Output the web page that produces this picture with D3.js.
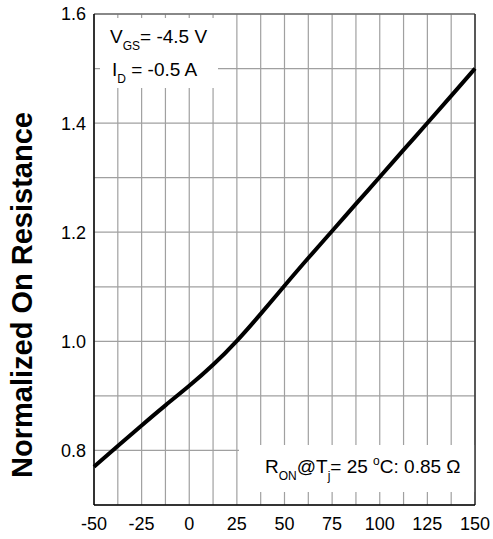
<!DOCTYPE html>
<html>
<head>
<meta charset="utf-8">
<script src="https://cdn.jsdelivr.net/npm/d3@7"></script>
<style>
  body { margin: 0; background: #fff; }
  svg { font-family: "Liberation Sans", Arial, sans-serif; }
</style>
</head>
<body>
<div id="chart-container"></div>
<script>
// data (junction temperature in °C, normalized R_on)
var temps = [-50, -37.5, -25, -12.5, 0, 12.5, 25, 37.5, 50, 62.5, 75, 87.5, 100, 112.5, 125, 137.5, 150];
var rOn = [0.770, 0.808, 0.846, 0.883, 0.918, 0.956, 1.000, 1.050, 1.102, 1.153, 1.202, 1.252, 1.301, 1.351, 1.400, 1.450, 1.500];

var xTickLabels = [-50, -25, 0, 25, 50, 75, 100, 125, 150];
var yTickLabels = [0.8, 1.0, 1.2, 1.4, 1.6];
var xGrid = d3.range(-50, 150.1, 12.5);
var yGrid = d3.range(0.7, 1.601, 0.1);

var width = 493, height = 539;
var plot = { left: 94, right: 475, top: 14, bottom: 505 };

var x = d3.scaleLinear().domain([-50, 150]).range([plot.left, plot.right]);
var y = d3.scaleLinear().domain([0.7, 1.6]).range([plot.bottom, plot.top]);

var svg = d3.select("#chart-container")
    .append("svg")
    .attr("width", width)
    .attr("height", height);

// grid
svg.append("g")
    .selectAll("line")
    .data(xGrid)
    .enter()
    .append("line")
    .attr("x1", function (d) { return x(d); })
    .attr("x2", function (d) { return x(d); })
    .attr("y1", plot.top)
    .attr("y2", plot.bottom)
    .attr("stroke", "#a0a0a0")
    .attr("stroke-width", 1.2);

svg.append("g")
    .selectAll("line")
    .data(yGrid)
    .enter()
    .append("line")
    .attr("x1", plot.left)
    .attr("x2", plot.right)
    .attr("y1", function (d) { return y(d); })
    .attr("y2", function (d) { return y(d); })
    .attr("stroke", "#a0a0a0")
    .attr("stroke-width", 1.2);

// white boxes behind the notes
svg.append("rect")
    .attr("x", 100).attr("y", 18)
    .attr("width", 118).attr("height", 70)
    .attr("fill", "#fff");

svg.append("rect")
    .attr("x", 239).attr("y", 445)
    .attr("width", plot.right - 239).attr("height", 47)
    .attr("fill", "#fff");

// frame
svg.append("line")
    .attr("x1", plot.left).attr("x2", plot.right)
    .attr("y1", plot.top).attr("y2", plot.top)
    .attr("stroke", "#707070").attr("stroke-width", 1.5);
svg.append("line")
    .attr("x1", plot.right).attr("x2", plot.right)
    .attr("y1", plot.top).attr("y2", plot.bottom)
    .attr("stroke", "#333").attr("stroke-width", 1.5);
svg.append("line")
    .attr("x1", plot.left).attr("x2", plot.left)
    .attr("y1", plot.top).attr("y2", plot.bottom)
    .attr("stroke", "#000").attr("stroke-width", 1.5);
svg.append("line")
    .attr("x1", plot.left).attr("x2", plot.right)
    .attr("y1", plot.bottom).attr("y2", plot.bottom)
    .attr("stroke", "#000").attr("stroke-width", 1.5);

// curve
var valueline = d3.line()
    .x(function (d, i) { return x(temps[i]); })
    .y(function (d) { return y(d); })
    .curve(d3.curveBasis);

svg.append("path")
    .datum(rOn)
    .attr("fill", "none")
    .attr("stroke", "#000")
    .attr("stroke-width", 4)
    .attr("d", valueline);

// tick labels
svg.append("g")
    .selectAll("text")
    .data(xTickLabels)
    .enter()
    .append("text")
    .attr("x", function (d) { return x(d); })
    .attr("y", 530)
    .attr("text-anchor", "middle")
    .style("font-size", "18px")
    .text(function (d) { return d; });

svg.append("g")
    .selectAll("text")
    .data(yTickLabels)
    .enter()
    .append("text")
    .attr("x", 86)
    .attr("y", function (d) { return y(d); })
    .attr("dy", "0.36em")
    .attr("text-anchor", "end")
    .style("font-size", "18px")
    .text(function (d) { return d.toFixed(1); });

// y axis title
svg.append("text")
    .attr("transform", "translate(32," + ((112 + 478) / 2) + ") rotate(-90)")
    .attr("text-anchor", "middle")
    .style("font-size", "29px")
    .style("font-weight", "bold")
    .text("Normalized On Resistance");

// notes
var note1 = svg.append("text")
    .attr("x", 110).attr("y", 43)
    .style("font-size", "19px");
note1.append("tspan").text("V");
note1.append("tspan").attr("dy", 7).style("font-size", "12px").text("GS");
note1.append("tspan").attr("dy", -7).text("= -4.5 V");

var note2 = svg.append("text")
    .attr("x", 112).attr("y", 76)
    .style("font-size", "19px");
note2.append("tspan").text("I");
note2.append("tspan").attr("dy", 7).style("font-size", "12px").text("D");
note2.append("tspan").attr("dy", -7).text(" = -0.5 A");

var note3 = svg.append("text")
    .attr("x", 265).attr("y", 473)
    .style("font-size", "19px");
note3.append("tspan").text("R");
note3.append("tspan").attr("dy", 7).style("font-size", "12px").text("ON");
note3.append("tspan").attr("dy", -7).text("@T");
note3.append("tspan").attr("dy", 7).style("font-size", "12px").text("j");
note3.append("tspan").attr("dy", -7).text("= 25 ");
note3.append("tspan").attr("dy", -8).style("font-size", "12px").text("o");
note3.append("tspan").attr("dy", 8).text("C: 0.85 \u03A9");
</script>
</body>
</html>
